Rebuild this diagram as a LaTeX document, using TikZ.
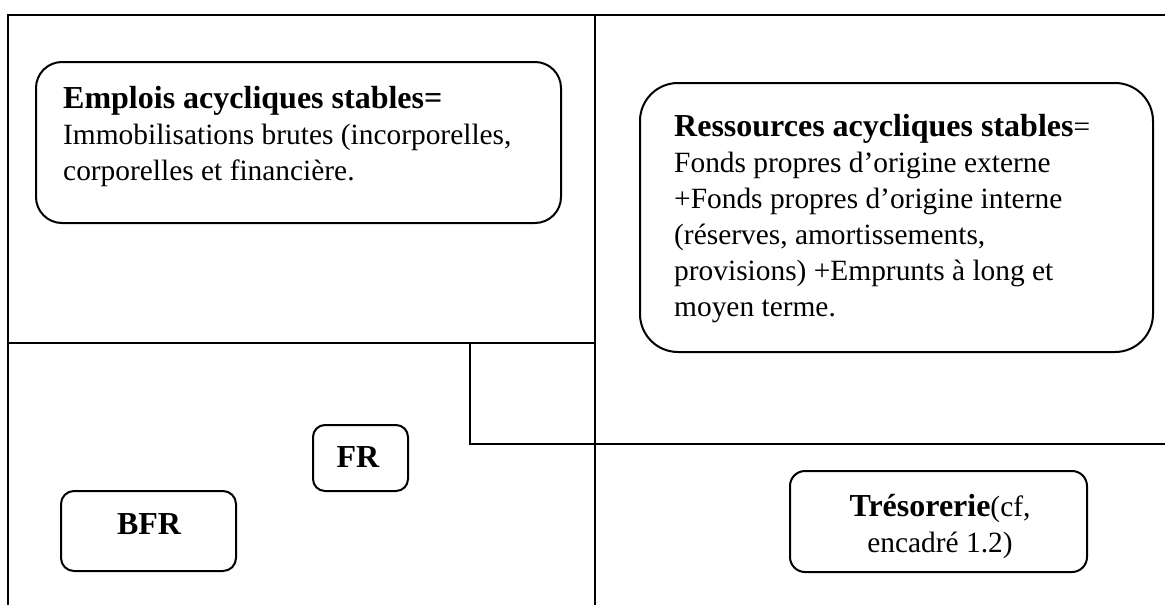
\documentclass[tikz,border=0pt]{standalone}
\usepackage{fontspec}
\setmainfont{Liberation Serif}
\begin{document}
\begin{tikzpicture}[x=1pt,y=-1pt,
  frame/.style={line width=2pt},
  rbox/.style={draw, line width=2pt, inner sep=0pt, outer sep=0pt},
  regtext/.style={inner sep=0pt, font=\fontsize{29.4}{36}\selectfont},
  boldtext/.style={inner sep=0pt, font=\fontsize{32}{36}\selectfont\bfseries}]
\useasboundingbox (0,0) rectangle (1165,605);

% frame of the balance-sheet diagram
\coordinate (tl) at (8,15);
\coordinate (tr) at (1165,15);
\coordinate (bl) at (8,605);
\coordinate (mt) at (595,15);
\coordinate (mb) at (595,605);
\coordinate (hl) at (8,343);
\coordinate (hm) at (595,343);
\coordinate (st) at (470,343);
\coordinate (sb) at (470,444);
\coordinate (sr) at (1165,444);
\draw[frame] (bl) -- (tl) -- (tr);
\draw[frame] (mt) -- (mb);
\draw[frame] (hl) -- (hm);
\draw[frame] (st) -- (sb) -- (sr);

% rounded boxes
\node[rbox, rounded corners=26pt, minimum width=525pt, minimum height=161pt] (emp) at (298.5,142.5) {};
\node[rbox, rounded corners=38pt, minimum width=513pt, minimum height=269pt] (res) at (896.5,217.5) {};
\node[rbox, rounded corners=12pt, minimum width=95pt, minimum height=66pt] (fr) at (360.5,458) {};
\node[rbox, rounded corners=13pt, minimum width=175pt, minimum height=80pt] (bfr) at (148.5,531) {};
\node[rbox, rounded corners=15pt, minimum width=297pt, minimum height=101pt] (tre) at (938.5,521.5) {};

% texts
\node[boldtext, anchor=base west] (e1) at (63,108) {Emplois acycliques stables=};
\node[regtext, anchor=base west] (e2) at (63,144) {Immobilisations brutes (incorporelles,};
\node[regtext, anchor=base west] (e3) at (63,180) {corporelles et financière.};

\node[regtext, anchor=base west] (r1) at (674,136) {\fontsize{32}{36}\selectfont\textbf{Ressources acycliques stables}\fontsize{29.4}{36}\selectfont=};
\node[regtext, anchor=base west] (r2) at (674,172) {Fonds propres d’origine externe};
\node[regtext, anchor=base west] (r3) at (674,208) {+Fonds propres d’origine interne};
\node[regtext, anchor=base west] (r4) at (674,244) {(réserves, amortissements,};
\node[regtext, anchor=base west] (r5) at (674,280) {provisions) +Emprunts à long et};
\node[regtext, anchor=base west] (r6) at (674,316) {moyen terme.};

\node[boldtext, anchor=base] (frt) at (358,467) {FR};
\node[boldtext, anchor=base] (bfrt) at (149,534) {BFR};

\node[regtext, anchor=base] (t1) at (940,516) {\fontsize{32}{36}\selectfont\textbf{Trésorerie}\fontsize{29.4}{36}\selectfont(cf,};
\node[regtext, anchor=base] (t2) at (940,552) {encadré 1.2)};
\end{tikzpicture}
\end{document}
